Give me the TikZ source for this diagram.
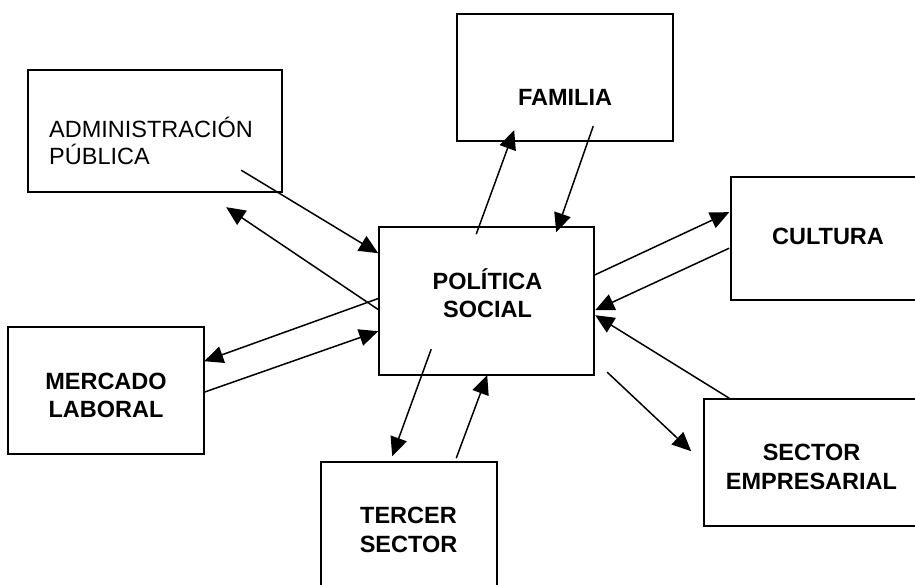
\documentclass[tikz,border=0pt]{standalone}
\usepackage{fontspec}
\setmainfont{Liberation Sans}
\usetikzlibrary{calc,arrows.meta}
\begin{document}
\begin{tikzpicture}[x=1pt,y=-1pt,
  boxnode/.style={draw=black, line width=1.6pt, rectangle, inner sep=0pt},
  lbl/.style={inner sep=0pt, font=\fontsize{23.5}{27}\selectfont\bfseries, anchor=base},
  lblreg/.style={inner sep=0pt, font=\fontsize{23.5}{27}\selectfont, anchor=base west},
  arr/.style={line width=1.5pt, -{Triangle[length=19pt,width=17pt]}}]
\clip (0,0) rectangle (915,585);
\fill[white] (0,0) rectangle (915,585);
% boxes
\node[boxnode, minimum width=254pt, minimum height=122pt] (admin) at (155,131) {};
\node[boxnode, minimum width=216pt, minimum height=127pt] (fam) at (565,77.5) {};
\node[boxnode, minimum width=194pt, minimum height=123pt] (cul) at (828,238.5) {};
\node[boxnode, minimum width=215pt, minimum height=148pt] (pol) at (486.5,301) {};
\node[boxnode, minimum width=196pt, minimum height=127pt] (mer) at (106,390.5) {};
\node[boxnode, minimum width=176pt, minimum height=136pt] (ter) at (409,530) {};
\node[boxnode, minimum width=215pt, minimum height=127pt] (sec) at (811.5,462.5) {};
% texts
\node[lblreg] (tadmin1) at (49,137.5) {ADMINISTRACIÓN};
\node[lblreg] (tadmin2) at (49,164.5) {PÚBLICA};
\node[lbl] (tfam) at (565,106) {FAMILIA};
\node[lbl] (tcul) at (828,245) {CULTURA};
\node[lbl] (tpol1) at (487.5,289) {POLÍTICA};
\node[lbl] (tpol2) at (487.5,317) {SOCIAL};
\node[lbl] (tmer1) at (106,389) {MERCADO};
\node[lbl] (tmer2) at (106,417) {LABORAL};
\node[lbl] (tter1) at (408.5,523.5) {TERCER};
\node[lbl] (tter2) at (408.5,552.5) {SECTOR};
\node[lbl] (tsec1) at (811.5,460) {SECTOR};
\node[lbl] (tsec2) at (811.5,489) {EMPRESARIAL};
% connectors
\draw[arr] ($(admin.north west)+(214,101)$) -- ($(pol.north west)+(0,27)$);
\draw[arr] ($(pol.north west)+(1,84)$) -- ($(admin.north west)+(199,138)$);
\draw[arr] ($(pol.north west)+(98,8)$) -- ($(fam.north west)+(58,117)$);
\draw[arr] ($(fam.north west)+(137,113)$) -- ($(pol.north west)+(178,6)$);
\draw[arr] ($(pol.north west)+(216,49)$) -- ($(cul.north west)+(-1,36)$);
\draw[arr] ($(cul.north west)+(-1,72)$) -- ($(pol.north west)+(217,84)$);
\draw[arr] ($(sec.north west)+(26,0)$) -- ($(pol.north west)+(217,89)$);
\draw[arr] ($(pol.north west)+(229,146)$) -- ($(sec.north west)+(-12,53)$);
\draw[arr] ($(pol.north west)+(1,72)$) -- ($(mer.north west)+(197,35)$);
\draw[arr] ($(mer.north west)+(197,66)$) -- ($(pol.north west)+(0,105)$);
\draw[arr] ($(pol.north west)+(53,123)$) -- ($(ter.north west)+(72,-5)$);
\draw[arr] ($(ter.north west)+(136,-3)$) -- ($(pol.north west)+(109,149)$);
\end{tikzpicture}
\end{document}
